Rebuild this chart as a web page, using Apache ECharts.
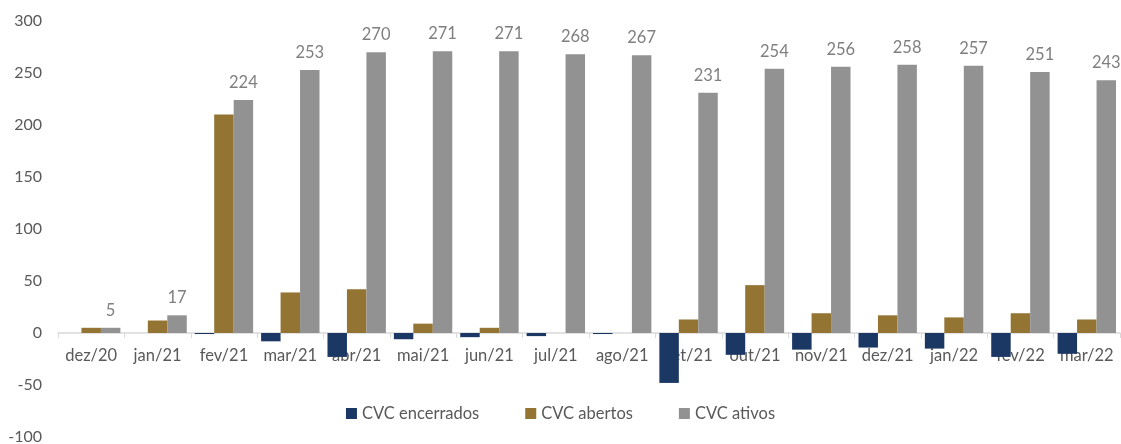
<!DOCTYPE html>
<html>
<head>
<meta charset="utf-8">
<script src="https://cdn.jsdelivr.net/npm/echarts@6/dist/echarts.min.js"></script>
<style>html,body{margin:0;padding:0;background:#fff}#c{width:1121px;height:444px}</style>
</head>
<body>
<div id="c"></div>
<script>
const categories = ['dez/20','jan/21','fev/21','mar/21','abr/21','mai/21','jun/21','jul/21','ago/21','set/21','out/21','nov/21','dez/21','jan/22','fev/22','mar/22'];
const encerrados = [0, 0, -1, -8, -23, -6, -4, -3, -1, -48, -21, -16, -14, -15, -23, -20];
const abertos = [5, 12, 210, 39, 42, 9, 5, 0, 0, 13, 46, 19, 17, 15, 19, 13];
const ativos = [5, 17, 224, 253, 270, 271, 271, 268, 267, 231, 254, 256, 258, 257, 251, 243];
const yTicks = {min: -100, max: 300, interval: 50};

const font = 'Lato, "Open Sans", sans-serif';
const gridTop = 21, gridBottom = 7, H = 444;
const plotH = H - gridTop - gridBottom;
const zeroOffset = -plotH * (0 - yTicks.min) / (yTicks.max - yTicks.min);

const chart = echarts.init(document.getElementById('c'));
chart.setOption({
  animation: false,
  textStyle: {fontFamily: font},
  grid: {left: 58, right: 1, top: gridTop, bottom: gridBottom, containLabel: false, outerBoundsMode: 'none'},
  legend: {
    bottom: 17, left: 'center',
    itemWidth: 11, itemHeight: 11, itemGap: 46,
    icon: 'rect',
    textStyle: {fontFamily: font, fontSize: 16.5, color: '#595959'},
    data: ['CVC encerrados', 'CVC abertos', 'CVC ativos']
  },
  xAxis: {
    type: 'category', data: categories,
    offset: zeroOffset,
    axisLine: {onZero: false, lineStyle: {color: '#d9d9d9', width: 1.5}},
    axisTick: {show: true, length: 5, lineStyle: {color: '#d9d9d9'}},
    axisLabel: {interval: 0, fontFamily: font, fontSize: 16.5, color: '#595959', margin: 14}
  },
  yAxis: {
    type: 'value', min: yTicks.min, max: yTicks.max, interval: yTicks.interval,
    splitLine: {show: false},
    axisLine: {show: false}, axisTick: {show: false},
    axisLabel: {fontFamily: font, fontSize: 16, color: '#595959', margin: 16}
  },
  series: [
    {name: 'CVC encerrados', type: 'bar', data: encerrados, barGap: '0%', barCategoryGap: '12%', z: 3,
     itemStyle: {color: '#1b3764'}},
    {name: 'CVC abertos', type: 'bar', data: abertos, barGap: '0%', barCategoryGap: '12%', z: 3,
     itemStyle: {color: '#937432'}},
    {name: 'CVC ativos', type: 'bar', data: ativos, barGap: '0%', barCategoryGap: '12%', z: 3,
     itemStyle: {color: '#929292'},
     label: {show: true, position: 'top', distance: 9, fontFamily: font, fontSize: 16.5, color: '#7f7f7f'}}
  ]
});
</script>
</body>
</html>
